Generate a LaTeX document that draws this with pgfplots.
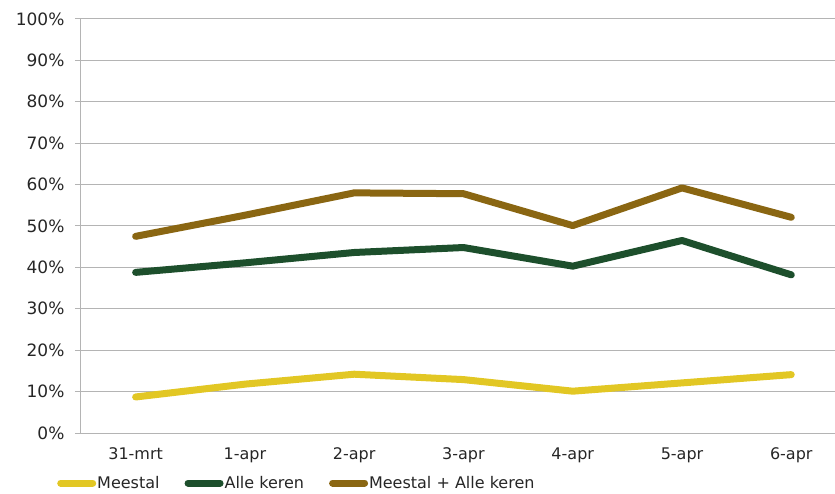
\documentclass[border=0pt]{standalone}
\usepackage{pgfplots}
\pgfplotsset{compat=1.18}
\usepackage{fontspec}
\setmainfont{DejaVu Sans}

\definecolor{meestal}{HTML}{E2C724}
\definecolor{allekeren}{HTML}{1D4F2C}
\definecolor{beide}{HTML}{8A6612}
\definecolor{gridgray}{HTML}{B4B4B4}
\definecolor{txt}{HTML}{262626}

\pgfplotstableread{
x  meestal  alle  beide
0  8.7      38.8  47.5
1  11.8     41.1  52.6
2  14.2     43.6  58.0
3  12.9     44.8  57.8
4  10.1     40.3  50.1
5  12.1     46.5  59.2
6  14.1     38.2  52.1
}\datatable

\begin{document}
\begin{tikzpicture}[x=1pt,y=1pt]
\useasboundingbox (0,0) rectangle (835,493);
\begin{axis}[
  at={(81pt,60pt)}, anchor=south west,
  scale only axis, width=754pt, height=414pt,
  xmin=-0.5, xmax=6.4, ymin=0, ymax=100,
  axis x line*=bottom, axis y line*=left,
  axis line style={gridgray, line width=1pt, -},
  xtick={0,...,6},
  xticklabels={31-mrt,1-apr,2-apr,3-apr,4-apr,5-apr,6-apr},
  major x tick style={draw=none},
  extra x ticks={-0.5,0.5,1.5,2.5,3.5,4.5,5.5,6.5},
  extra x tick labels={},
  extra x tick style={tick style={gridgray, line width=1pt}, major tick length=6pt, tick align=outside, grid=none},
  ytick={0,10,...,100},
  yticklabel={\pgfmathprintnumber{\tick}\%},
  ymajorgrids, grid style={gridgray, line width=1pt},
  y tick style={gridgray, line width=1pt},
  major tick length=6pt, tick align=outside,
  /pgf/number format/assume math mode=true,
  tick label style={font=\fontsize{16}{19}\selectfont, text=txt},
  yticklabel style={xshift=-7pt, font=\fontsize{17}{20}\selectfont},
  xticklabel style={yshift=-5pt},
  clip=false,
  legend columns=3,
  legend style={at={(-0.0318,-0.1208)}, anchor=west, draw=none, fill=none,
    inner sep=0pt, font=\fontsize{16}{19}\selectfont, text=txt,
    nodes={inner sep=1pt},
    /tikz/every odd column/.append style={column sep=0pt},
    /tikz/every even column/.append style={column sep=24pt}},
  legend image code/.code={\draw[line width=7pt, line cap=round] (2pt,0pt) -- (34pt,0pt);},
  every axis plot/.append style={line width=7pt, line cap=round, line join=round},
]
\addplot[meestal] table[x=x, y=meestal] {\datatable};
\addlegendentry{Meestal}
\addplot[allekeren] table[x=x, y=alle] {\datatable};
\addlegendentry{Alle keren}
\addplot[beide] table[x=x, y=beide] {\datatable};
\addlegendentry{Meestal + Alle keren}
\end{axis}
\end{tikzpicture}
\end{document}
